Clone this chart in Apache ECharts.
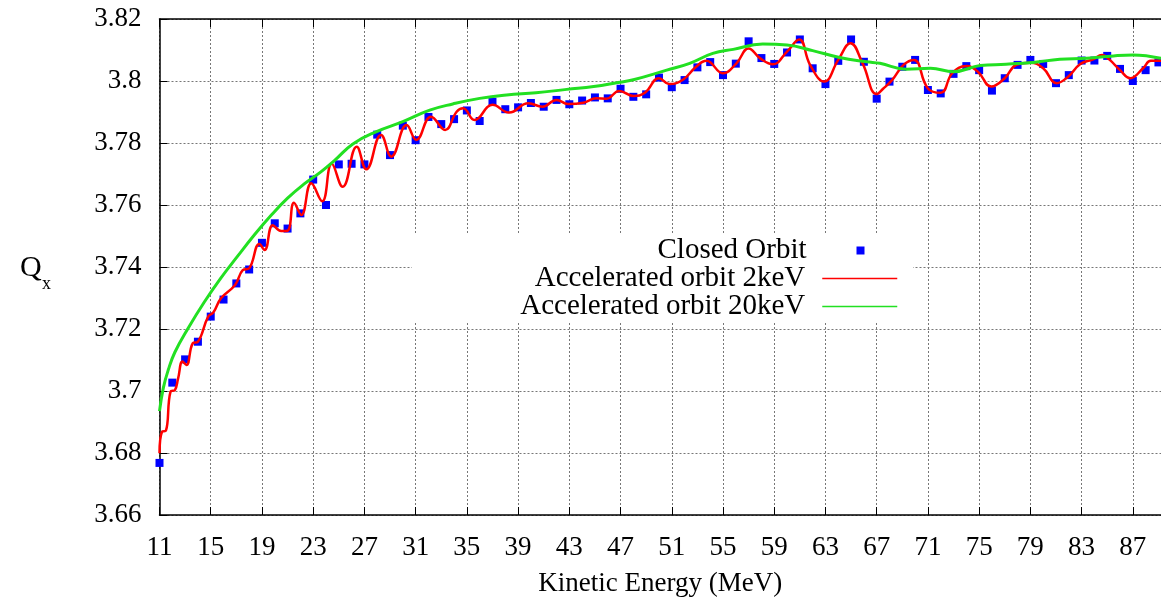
<!DOCTYPE html>
<html>
<head>
<meta charset="utf-8">
<script src="https://cdn.jsdelivr.net/npm/echarts@6/dist/echarts.min.js"></script>
<style>
html,body{margin:0;padding:0;background:#fff;}
#c{width:1161px;height:606px;}
</style>
</head>
<body>
<div id="c"></div>
<script>
// ---- data ----
const xTicks = [11,15,19,23,27,31,35,39,43,47,51,55,59,63,67,71,75,79,83,87];
const closedE = [11,12,13,14,15,16,17,18,19,20,21,22,23,24,25,26,27,28,29,30,31,32,33,34,35,36,37,38,39,40,41,42,43,44,45,46,47,48,49,50,51,52,53,54,55,56,57,58,59,60,61,62,63,64,65,66,67,68,69,70,71,72,73,74,75,76,77,78,79,80,81,82,83,84,85,86,87,88,89];
const closedQ = [3.6768,3.7027,3.7102,3.7159,3.7240,3.7295,3.7347,3.7392,3.7478,3.7541,3.7524,3.7573,3.7682,3.7600,3.7731,3.7733,3.7731,3.7827,3.7761,3.7856,3.7809,3.7884,3.7861,3.7877,3.7905,3.7871,3.7933,3.7909,3.7915,3.7929,3.7917,3.7939,3.7925,3.7937,3.7947,3.7944,3.7975,3.7949,3.7957,3.8011,3.7980,3.8003,3.8044,3.8061,3.8019,3.8056,3.8128,3.8074,3.8055,3.8092,3.8134,3.8041,3.7990,3.8065,3.8134,3.8062,3.7943,3.7998,3.8046,3.8068,3.7971,3.7960,3.8023,3.8048,3.8035,3.7969,3.8009,3.8052,3.8068,3.8055,3.7993,3.8019,3.8066,3.8066,3.8081,3.8039,3.8000,3.8035,3.8060];

const acc2E = [11.0,11.2,11.5,11.86,12.2,12.45,12.8,13.1,13.6,14.0,14.8,15.2,15.8,16.9,17.5,18.0,18.8,19.2,19.85,20.5,21.0,21.5,22.07,22.85,23.7,24.45,25.3,26.4,27.15,28.3,29.1,30.3,31.05,32.2,33.3,34.2,34.7,35.6,37.0,38.3,39.8,40.9,42.0,42.9,44.1,45.1,45.9,46.9,48.0,48.9,50.0,50.8,51.9,52.9,53.7,55.0,56.05,57.0,57.9,58.9,60.0,60.95,61.8,62.9,64.0,64.95,65.9,67.0,67.5,68.2,69.1,69.9,71.0,72.0,72.9,74.0,74.9,75.95,77.0,77.9,79.0,80.0,81.05,81.95,82.9,83.9,84.6,85.2,86.0,86.8,87.8,88.4,89.2];
const acc2Q = [3.6799,3.6869,3.6872,3.6998,3.7003,3.7040,3.7095,3.7084,3.7154,3.7159,3.7240,3.7253,3.7299,3.7342,3.7390,3.7396,3.7474,3.7455,3.7535,3.7516,3.7517,3.7607,3.7568,3.7670,3.7612,3.7733,3.7659,3.7788,3.7715,3.7826,3.7756,3.7858,3.7810,3.7885,3.7842,3.7901,3.7912,3.7874,3.7923,3.7898,3.7928,3.7917,3.7939,3.7926,3.7930,3.7944,3.7943,3.7968,3.7952,3.7962,3.8009,3.7990,3.8005,3.8046,3.8065,3.8025,3.8057,3.8105,3.8073,3.8054,3.8095,3.8134,3.8052,3.7998,3.8068,3.8122,3.8057,3.7958,3.7975,3.8003,3.8052,3.8068,3.7976,3.7962,3.8025,3.8048,3.8030,3.7982,3.8009,3.8052,3.8059,3.8041,3.7993,3.8014,3.8055,3.8070,3.8084,3.8068,3.8035,3.8009,3.8041,3.8065,3.8065];

const acc20E = [11.0,11.3,11.7,12.2,13.2,14.5,15.8,17.1,18.4,19.7,21.0,22.3,23.6,24.7,26.1,27.9,30.0,32.1,33.9,36.0,38.1,40.4,42.8,44.9,46.8,48.0,50.6,52.4,54.2,55.8,58.1,60.0,62.0,64.1,66.2,67.25,69.3,71.2,73.0,75.1,77.1,79.2,81.3,83.4,85.5,87.0,89.2];
const acc20Q = [3.6935,3.7010,3.7070,3.7125,3.7200,3.7287,3.7365,3.7435,3.7503,3.7566,3.7622,3.7668,3.7707,3.7745,3.7797,3.7836,3.7869,3.7906,3.7926,3.7944,3.7955,3.7962,3.7973,3.7982,3.7995,3.8004,3.8035,3.8057,3.8089,3.8102,3.8119,3.8116,3.8098,3.8076,3.8062,3.8057,3.8038,3.8041,3.8030,3.8050,3.8054,3.8060,3.8070,3.8073,3.8081,3.8084,3.8073];

const names = ['Closed Orbit','Accelerated orbit 2keV','Accelerated orbit 20keV'];

function pairs(xs, ys){ return xs.map((x,i)=>[x, ys[i]]); }

const FONT = '"Liberation Serif", "DejaVu Serif", serif';
const grid = {left:159.5, top:19, right:0, bottom:91};
const splitStyle = {show:true, lineStyle:{color:'#777', type:[2,2], width:1}};

const chart = echarts.init(document.getElementById('c'), null, {renderer:'canvas'});
const legendText = {fontFamily:FONT, fontSize:29, color:'#000', lineHeight:28};
const legendBase = {
  orient:'vertical', align:'right', selectedMode:false, padding:0, z:20, itemGap:0
};
chart.setOption({
  animation:false,
  backgroundColor:'#fff',
  grid: grid,
  graphic:[
    {type:'rect', z:10, shape:{x:412, y:235, width:501, height:88}, style:{fill:'#fff'}},
    {type:'text', left:20, top:253, z:10, style:{text:'Q', font:'30px ' + FONT, fill:'#000'}},
    {type:'text', left:42, top:275, z:10, style:{text:'x', font:'18px ' + FONT, fill:'#000'}}
  ],
  legend:[
    Object.assign({}, legendBase, {data:[names[0]], right:296.5, top:236, itemWidth:8, itemHeight:8,
      textStyle:Object.assign({}, legendText, {padding:[0,45,0,0]})}),
    Object.assign({}, legendBase, {data:[{name:names[1], icon:'inherit'}], right:263, top:264, itemWidth:75, itemHeight:14,
      lineStyle:{width:1.5}, itemStyle:{opacity:0},
      textStyle:Object.assign({}, legendText, {padding:[0,12,0,0]})}),
    Object.assign({}, legendBase, {data:[{name:names[2], icon:'inherit'}], right:263, top:292, itemWidth:75, itemHeight:14,
      lineStyle:{width:1.5}, itemStyle:{opacity:0},
      textStyle:Object.assign({}, legendText, {padding:[0,12,0,0]})})
  ],
  xAxis:[{
    type:'value', min:11, max:89.2, interval:4,
    name:'Kinetic Energy (MeV)', nameLocation:'middle', nameGap:55,
    nameTextStyle:{fontFamily:FONT, fontSize:27, color:'#000'},
    axisLine:{show:true, onZero:false, lineStyle:{color:'#000', width:1.5}},
    axisTick:{show:true, inside:true, length:8, lineStyle:{color:'#000', width:1}},
    axisLabel:{fontFamily:FONT, fontSize:27, color:'#000', margin:19, customValues: xTicks},
    splitLine:splitStyle
  },{
    type:'value', position:'top', min:11, max:89.2, interval:4,
    axisLine:{show:true, onZero:false, lineStyle:{color:'#000', width:1.5}},
    axisTick:{show:true, inside:true, length:8, lineStyle:{color:'#000', width:1}},
    axisLabel:{show:false}, splitLine:{show:false}
  }],
  yAxis:{
    type:'value', min:3.66, max:3.82, interval:0.02,
    axisLine:{show:true, onZero:false, lineStyle:{color:'#000', width:1.5}},
    axisTick:{show:true, inside:true, length:8, lineStyle:{color:'#000', width:1}},
    axisLabel:{fontFamily:FONT, fontSize:27, color:'#000', margin:18,
      formatter: v => String(Math.round(v*100)/100)},
    splitLine:splitStyle
  },
  series:[
    {name:names[0], type:'scatter', symbol:'rect', symbolSize:8, itemStyle:{color:'#0000ff', opacity:1},
     data:pairs(closedE, closedQ), z:2},
    {name:names[1], type:'line', smooth:0.45, showSymbol:false, symbol:'none',
     lineStyle:{color:'#ff0000', width:2.5}, itemStyle:{color:'#ff0000'},
     data:pairs(acc2E, acc2Q), z:3},
    {name:names[2], type:'line', smooth:0.45, showSymbol:false, symbol:'none',
     lineStyle:{color:'#22e022', width:3}, itemStyle:{color:'#22e022'},
     data:pairs(acc20E, acc20Q), z:4}
  ]
});
</script>
</body>
</html>
